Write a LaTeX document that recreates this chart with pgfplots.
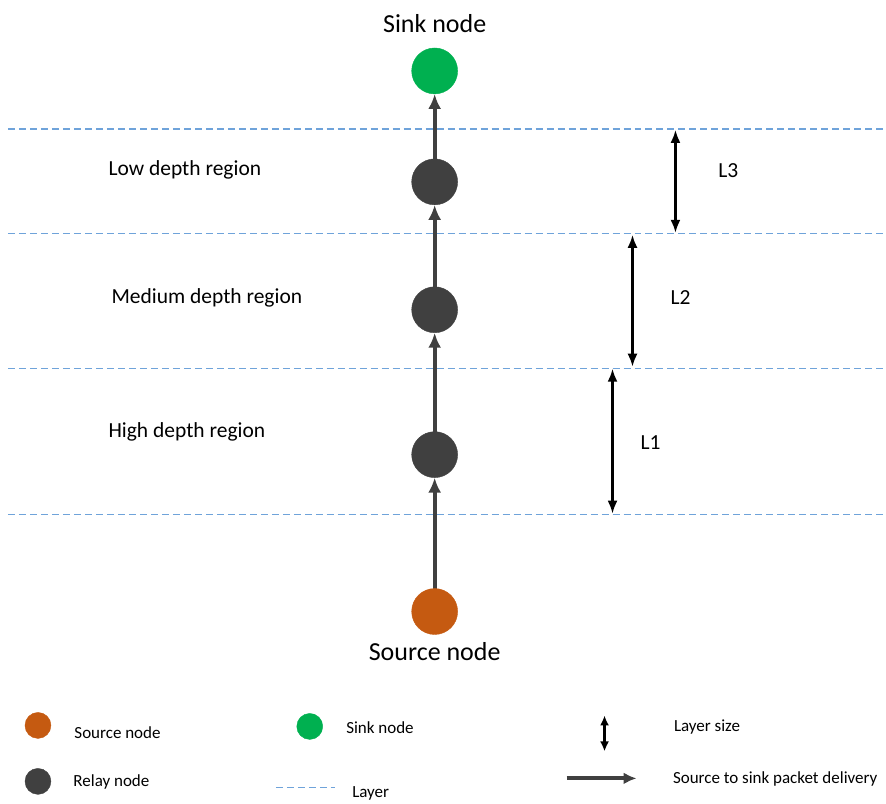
\documentclass[border=0pt]{standalone}
\usepackage{pgfplots}
\pgfplotsset{compat=1.18}
\usepackage{fontspec}
\setmainfont{Carlito}
\usetikzlibrary{arrows.meta}
\definecolor{sinkc}{HTML}{00B050}
\definecolor{srcc}{HTML}{C55A11}
\definecolor{relayc}{HTML}{404040}
\definecolor{layerc}{HTML}{6FA3DA}
\definecolor{txt}{HTML}{262626}
\begin{document}
\begin{tikzpicture}
\begin{axis}[
  width=886pt, height=802pt, scale only axis,
  xmin=0, xmax=886, ymin=0, ymax=802, y dir=reverse,
  axis lines=none, clip=false,
  every node/.style={text=txt},
]
\path[draw=none] (axis cs:0,0) rectangle (axis cs:886,802);
% layers
\addplot[color=layerc, line width=1.4pt, dash pattern=on 7pt off 4pt] coordinates {(8,129) (886,129)};
\addplot[color=layerc, line width=1.4pt, dash pattern=on 7pt off 4pt] coordinates {(8,233.5) (886,233.5)};
\addplot[color=layerc, line width=1.4pt, dash pattern=on 7pt off 4pt] coordinates {(8,368.5) (886,368.5)};
\addplot[color=layerc, line width=1.4pt, dash pattern=on 7pt off 4pt] coordinates {(8,515) (886,515)};
% delivery arrows
\addplot[relayc, line width=3.8pt, -{Latex[length=15pt,width=13pt]}] coordinates {(435,600) (435,478)};
\addplot[relayc, line width=3.8pt, -{Latex[length=15pt,width=13pt]}] coordinates {(435,445) (435,333)};
\addplot[relayc, line width=3.8pt, -{Latex[length=15pt,width=13pt]}] coordinates {(435,300) (435,205)};
\addplot[relayc, line width=3.8pt, -{Latex[length=15pt,width=13pt]}] coordinates {(435,172) (435,94)};
% nodes
\addplot[sinkc, only marks, mark=*, mark size=23pt, mark options={draw=sinkc, fill=sinkc}] coordinates {(435,71)};
\addplot[relayc, only marks, mark=*, mark size=23pt, mark options={draw=relayc, fill=relayc}] coordinates {(435,182) (435,310) (435,455)};
\addplot[srcc, only marks, mark=*, mark size=23pt, mark options={draw=srcc, fill=srcc}] coordinates {(435,612)};
% layer size arrows
\addplot[black, line width=2.2pt, {Latex[length=13pt,width=10pt]}-{Latex[length=13pt,width=10pt]}] coordinates {(676,130) (676,233)};
\addplot[black, line width=2.2pt, {Latex[length=13pt,width=10pt]}-{Latex[length=13pt,width=10pt]}] coordinates {(633,235) (633,367)};
\addplot[black, line width=2.2pt, {Latex[length=13pt,width=10pt]}-{Latex[length=13pt,width=10pt]}] coordinates {(613,369) (613,514)};
% texts
\node[font=\fontsize{26}{30}\selectfont] at (axis cs:435,24) {Sink node};
\node[font=\fontsize{26}{30}\selectfont] at (axis cs:435,652) {Source node};
\node[font=\fontsize{21.5}{25}\selectfont] at (axis cs:185,170) {Low depth region};
\node[font=\fontsize{21.5}{25}\selectfont] at (axis cs:207,298) {Medium depth region};
\node[font=\fontsize{21.5}{25}\selectfont] at (axis cs:187,432) {High depth region};
\node[font=\fontsize{21.5}{25}\selectfont] at (axis cs:729,171) {L3};
\node[font=\fontsize{21.5}{25}\selectfont] at (axis cs:681,298) {L2};
\node[font=\fontsize{21.5}{25}\selectfont] at (axis cs:651,443) {L1};
% legend
\addplot[srcc, only marks, mark=*, mark size=13pt, mark options={draw=srcc, fill=srcc}] coordinates {(38,726)};
\addplot[relayc, only marks, mark=*, mark size=13pt, mark options={draw=relayc, fill=relayc}] coordinates {(38,782)};
\addplot[sinkc, only marks, mark=*, mark size=13pt, mark options={draw=sinkc, fill=sinkc}] coordinates {(310,727)};
\addplot[color=layerc, line width=1.4pt, dash pattern=on 7pt off 4pt] coordinates {(276,788) (335,788)};
\addplot[black, line width=2.2pt, {Latex[length=10pt,width=9pt]}-{Latex[length=10pt,width=9pt]}] coordinates {(605,716) (605,752)};
\addplot[relayc, line width=3.8pt, -{Latex[length=13pt,width=12pt]}] coordinates {(567,779) (637,779)};
\node[font=\fontsize{17}{20}\selectfont, anchor=west] at (axis cs:71,733) {Source node};
\node[font=\fontsize{17}{20}\selectfont, anchor=west] at (axis cs:70,783) {Relay node};
\node[font=\fontsize{17}{20}\selectfont, anchor=west] at (axis cs:343,728) {Sink node};
\node[font=\fontsize{17}{20}\selectfont, anchor=west] at (axis cs:349,794) {Layer};
\node[font=\fontsize{17}{20}\selectfont, anchor=west] at (axis cs:671,728) {Layer size};
\node[font=\fontsize{17}{20}\selectfont, anchor=west] at (axis cs:670,780) {Source to sink packet delivery};
\end{axis}
\end{tikzpicture}
\end{document}
